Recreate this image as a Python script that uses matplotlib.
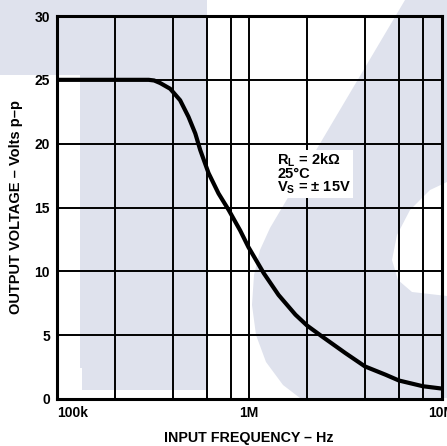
import numpy as np
import matplotlib.pyplot as plt
from matplotlib.patches import Polygon
from matplotlib.ticker import FixedLocator, NullFormatter

plt.rcParams['font.family'] = ['Liberation Sans', 'DejaVu Sans']
plt.rcParams['font.weight'] = 'bold'
plt.rcParams['mathtext.fontset'] = 'custom'
plt.rcParams['mathtext.bf'] = 'Liberation Sans:bold'
plt.rcParams['mathtext.rm'] = 'Liberation Sans:bold'
plt.rcParams['mathtext.default'] = 'bf'

# curve (Hz, Volts p-p)
freq = [1e5, 2e5, 3e5, 3.2e5, 3.44e5, 3.88e5, 4.37e5, 4.83e5, 5.24e5, 5.56e5,
        6.14e5, 6.92e5, 7.82e5, 8.97e5, 9.9e5, 1.19e6, 1.42e6, 1.74e6, 2.0e6,
        2.39e6, 3.16e6, 4.0e6, 5.12e6, 6.0e6, 8.0e6, 1.0e7]
vout = [25, 25, 25, 24.95, 24.75, 24.3, 23.4, 22.1, 20.8, 19.5,
        17.7, 16.1, 14.8, 13.2, 11.9, 9.85, 8.15, 6.6, 5.75,
        4.9, 3.6, 2.55, 1.9, 1.45, 1.0, 0.82]

xticks = [1e5, 1e6, 1e7]
xticklabels = ['100k', '1M', '10M']
xminor = [2e5, 4e5, 6e5, 8e5, 2e6, 4e6, 6e6, 8e6]
yticks = [0, 5, 10, 15, 20, 25, 30]

W, H = 447, 446
fig = plt.figure(figsize=(W / 100, H / 100), dpi=100)

# faint background logo shapes (pixel outlines, figure space)
shade = '#dfe2ed'
shapes = [
    [(0, 0), (207, 0), (207, 75), (0, 75)],
    [(80, 75), (207, 75), (207, 390), (82, 390), (82, 368), (80, 368)],
    [(405, 0), (447, 0), (447, 182), (430, 190), (410, 210), (397, 235), (392, 260),
     (398, 280), (412, 292), (447, 296), (447, 398), (300, 398), (283, 385), (266, 362),
     (256, 335), (252, 305), (254, 275), (260, 250), (270, 228)],
]
for pts in shapes:
    xy = [(x / W, 1 - y / H) for x, y in pts]
    fig.add_artist(Polygon(xy, closed=True, transform=fig.transFigure,
                           facecolor=shade, edgecolor='none', zorder=0))

ax = fig.add_axes([57 / W, 1 - 399 / H, (441.5 - 57) / W, (399 - 16) / H])
ax.set_facecolor('none')
ax.set_zorder(1)

ax.plot(freq, vout, color='black', lw=3.0, solid_joinstyle='round', zorder=3)

ax.set_xscale('log')
ax.set_xlim(1e5, 1e7)
ax.set_ylim(0, 30)
ax.set_xticks(xticks)
ax.set_xticklabels(xticklabels)
ax.xaxis.set_minor_locator(FixedLocator(xminor))
ax.xaxis.set_minor_formatter(NullFormatter())
ax.set_yticks(yticks)
ax.tick_params(which='both', length=0, labelsize=10)
ax.tick_params(axis='x', pad=5)
ax.tick_params(axis='y', pad=5)
ax.get_xticklabels()[0].set_ha('left')

ax.grid(which='both', color='black', lw=1.4)
ax.set_axisbelow(True)
for s in ax.spines.values():
    s.set_linewidth(2.2)

ax.set_xlabel('INPUT FREQUENCY – Hz', fontsize=10.3, fontweight='bold', labelpad=8)
ax.set_ylabel('OUTPUT VOLTAGE – Volts p–p', fontsize=10.5, fontweight='bold', labelpad=8)

ax.text(1.40e6, 19.4, 'R$_{L}$ = 2kΩ\n25°C\nV$_{S}$ = ± 15V', fontsize=10.5,
        fontweight='bold', va='top', ha='left', linespacing=0.88, zorder=4,
        bbox=dict(facecolor='white', edgecolor='none', pad=1.0))

fig.savefig('out.png', dpi=100)
